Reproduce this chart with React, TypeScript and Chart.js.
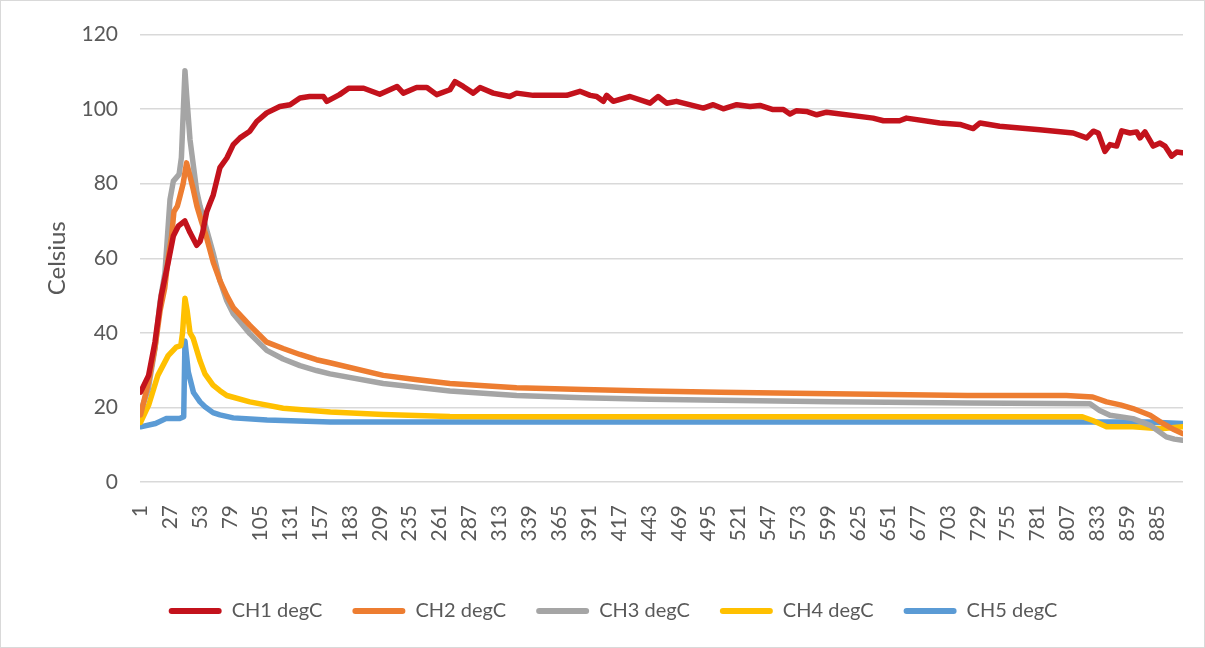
import React, { useEffect, useRef } from 'react';
import { Chart, registerables } from 'chart.js';

Chart.register(...registerables);

const seriesNames = ['CH1 degC', 'CH2 degC', 'CH3 degC', 'CH4 degC', 'CH5 degC'];
const seriesColors = ['#C3121C', '#ED7D31', '#A5A5A5', '#FFC000', '#5B9BD5'];

// [sample index, degC]
const ch1: number[][] = [
  [1, 24.1], [8, 28.6], [13.5, 37.5], [19, 50], [25, 58.9], [29.5, 66], [34, 68.7], [39.5, 70],
  [44, 66.9], [49.8, 63.5], [52.7, 64.5], [55, 67], [58.5, 72.5], [61, 74.5], [64.2, 77],
  [70, 84.3], [76, 86.9], [81.6, 90.5], [87.5, 92.3], [96, 94.1], [102, 96.7], [110.7, 99],
  [122, 100.7], [131, 101.2], [139.6, 103], [148, 103.4], [160, 103.4], [163, 102.1], [174, 103.9],
  [182, 105.6], [195, 105.6], [209, 104], [224, 106.1], [229.5, 104.3], [241, 105.8], [250, 105.8],
  [258.5, 103.9], [270, 105.2], [274.4, 107.4], [281.6, 106.1], [290.3, 104.3], [296.2, 105.8],
  [307.7, 104.3], [322, 103.4], [328, 104.3], [342.5, 103.7], [371.5, 103.7], [383, 104.8],
  [392, 103.7], [397.6, 103.4], [403.4, 102.1], [406.3, 103.7], [412, 102.1], [426.6, 103.4],
  [444, 101.6], [451, 103.4], [458.5, 101.6], [467, 102.1], [490.4, 100.3], [499, 101.2],
  [507.7, 100.1], [519.4, 101.2], [531, 100.7], [539.6, 101], [551, 99.9], [560, 99.9],
  [565.7, 98.7], [571.5, 99.6], [580, 99.4], [589, 98.5], [597.6, 99.2], [638, 97.6], [647, 96.9],
  [661, 96.9], [667, 97.6], [696, 96.3], [713.5, 95.9], [725, 94.8], [731, 96.3], [748, 95.4],
  [783, 94.5], [812, 93.6], [823.7, 92.3], [829.5, 94.1], [833.8, 93.6], [839.6, 88.7], [844, 90.5],
  [849.8, 90.1], [854.2, 94.2], [861.4, 93.6], [867.2, 93.9], [870.1, 92.3], [874.4, 93.9],
  [881.6, 90.1], [887.5, 90.9], [891.8, 90.1], [897.6, 87.4], [902, 88.5], [907, 88.3],
];
const ch2: number[][] = [
  [1, 18], [8, 27], [13.5, 36], [18, 46], [22, 52], [25, 60], [28, 66], [30, 72.5], [33, 74],
  [35.3, 76.7], [38, 80], [41, 85.6], [44, 82], [46.8, 78.5], [50, 74], [54.2, 69.6], [58, 66],
  [64.2, 58.9], [70, 54], [76, 50], [81.6, 46.8], [96, 42], [110.7, 37.5], [125, 35.8],
  [139.6, 34.2], [154, 32.8], [165.7, 32], [212, 28.6], [240, 27.5], [270, 26.4], [300, 25.8],
  [328, 25.3], [386, 24.8], [443, 24.4], [505, 24.1], [603, 23.7], [720, 23.2], [806, 23.2],
  [829, 22.8], [841, 21.5], [853, 20.7], [864, 19.7], [879, 17.9], [890, 15.7], [900, 14], [907, 13],
];
const ch3: number[][] = [
  [1, 18.8], [7.7, 25], [13.5, 35.7], [17.9, 48.2], [22.2, 56.2], [26.6, 75.8], [29.5, 80.7],
  [34.5, 82.5], [36.5, 87], [39.6, 110.3], [41, 104], [44, 91.8], [49.8, 78], [52.7, 74],
  [57, 69.3], [64.2, 61.3], [70, 54], [76, 48.6], [81.6, 45.1], [96, 39.8], [110.7, 35.3],
  [125, 33], [139.6, 31.2], [154, 29.9], [165.7, 29], [212, 26.4], [270, 24.4], [328, 23.2],
  [386, 22.6], [444, 22.2], [505, 21.9], [603, 21.5], [720, 21.2], [826.6, 21], [835, 19.2],
  [844, 17.9], [864, 17], [879, 15.2], [893, 12.1], [900, 11.5], [907, 11.2],
];
const ch4: number[][] = [
  [1, 16], [8, 20.6], [16, 28.6], [25, 33.9], [32, 36.2], [36, 36.6], [37.5, 40], [39.6, 49.3],
  [41.5, 46], [44, 40], [46.8, 38.5], [52.7, 32.5], [57, 29], [64, 26], [70, 24.5], [76, 23.2],
  [96, 21.5], [125, 19.8], [166, 18.8], [212, 18.1], [270, 17.6], [328, 17.5], [487, 17.5],
  [820, 17.5], [829, 16.5], [841, 14.8], [864, 14.8], [888, 14.3], [907, 14.8],
];
const ch5: number[][] = [
  [1, 14.8], [14, 15.7], [23, 17], [35, 17], [38.5, 17.5], [39.6, 37.8], [42.5, 29.5], [47, 24],
  [52.7, 21.5], [57, 20.2], [64, 18.6], [70, 18], [81.6, 17.2], [111, 16.6], [166, 16.1],
  [860, 16.1], [877, 16.1], [907, 15.7],
];

const xTickValues = [
  1, 27, 53, 79, 105, 131, 157, 183, 209, 235, 261, 287, 313, 339, 365, 391, 417, 443, 469,
  495, 521, 547, 573, 599, 625, 651, 677, 703, 729, 755, 781, 807, 833, 859, 885,
];
const yTitle = 'Celsius';

export default function App() {
  const ref = useRef<HTMLCanvasElement>(null);
  useEffect(() => {
    document.body.style.margin = '0';
    const series = [ch1, ch2, ch3, ch4, ch5];
    Chart.defaults.font.family = 'Lato';
    const textColor = '#595959';
    const chart = new Chart(ref.current as HTMLCanvasElement, {
      type: 'line',
      data: {
        datasets: series.map((pts, i) => ({
          label: seriesNames[i],
          data: pts.map(([x, y]) => ({ x, y })),
          borderColor: seriesColors[i],
          backgroundColor: seriesColors[i],
          borderWidth: 5.5,
          pointRadius: 0,
          tension: 0,
          borderJoinStyle: 'round',
          borderCapStyle: 'round',
        })),
      },
      options: {
        animation: false,
        responsive: false,
        layout: { padding: { left: 43, right: 22, top: 33, bottom: 17 } },
        scales: {
          x: {
            type: 'linear',
            min: 0.5,
            max: 907.5,
            afterBuildTicks: (scale: any) => {
              scale.ticks = xTickValues.map((v) => ({ value: v }));
            },
            afterFit: (scale: any) => {
              scale.height = 89;
            },
            ticks: {
              autoSkip: false,
              maxRotation: 90,
              minRotation: 90,
              padding: 15,
              color: textColor,
              font: { size: 21, family: 'Lato' },
              callback: (v: any) => String(v),
            },
            grid: { display: false },
            border: { display: false },
          },
          y: {
            min: 0,
            max: 120,
            afterFit: (scale: any) => {
              scale.width = 97;
            },
            ticks: {
              stepSize: 20,
              padding: 22,
              color: textColor,
              font: { size: 21, family: 'Lato' },
            },
            grid: { color: '#d9d9d9', lineWidth: 1.5, drawTicks: false },
            border: { display: false },
            title: {
              display: true,
              text: yTitle,
              color: textColor,
              font: { size: 24, family: 'Lato' },
              padding: { top: 0, bottom: 0 },
            },
          },
        },
        plugins: {
          tooltip: { enabled: false },
          legend: {
            position: 'bottom',
            labels: {
              boxWidth: 53,
              boxHeight: 6,
              useBorderRadius: true,
              borderRadius: 3,
              padding: 30,
              color: textColor,
              font: { size: 20, family: 'Lato' },
              generateLabels: (c: any) =>
                Chart.defaults.plugins.legend.labels
                  .generateLabels(c)
                  .map((it: any) => ({ ...it, lineWidth: 0, fillStyle: it.strokeStyle })),
            },
          },
        },
      },
    } as any);
    return () => chart.destroy();
  }, []);
  return (
    <div style={{ position: 'absolute', left: 0, top: 0, width: 1205, height: 648 }}>
      <canvas ref={ref} width={1205} height={648} style={{ display: 'block' }} />
      <div
        style={{
          position: 'absolute',
          left: 0,
          top: 0,
          width: 1205,
          height: 648,
          boxSizing: 'border-box',
          border: '1px solid #d9d9d9',
          pointerEvents: 'none',
        }}
      />
    </div>
  );
}
